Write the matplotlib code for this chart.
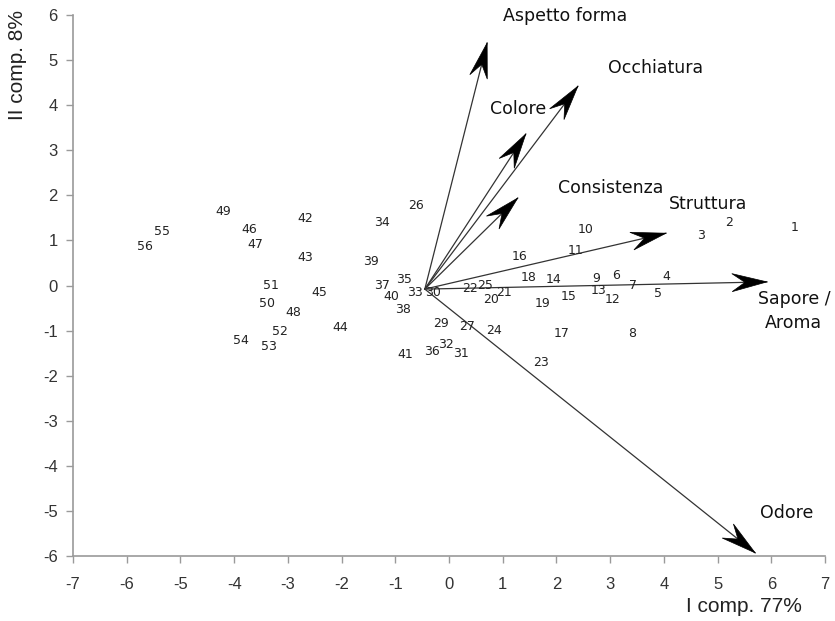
import numpy as np
import matplotlib
matplotlib.use("Agg")
import matplotlib.pyplot as plt
from matplotlib.patches import Polygon
from matplotlib.transforms import IdentityTransform

plt.rcParams["axes.unicode_minus"] = False

# Sample scores (label, x, y)
point_labels = [str(i) for i in range(1, 28)] + ["29", "30", "31", "32", "33", "34", "35", "36", "37", "38", "39", "40",
                "41", "42", "43", "44", "45", "46", "47", "48", "49", "50", "51", "52", "53", "54", "55", "56"]
point_x = [6.43, 5.22, 4.69, 4.05, 3.89, 3.11, 3.43, 3.40, 2.74, 2.55,
           2.35, 3.04, 2.78, 1.94, 2.22, 1.32, 2.10, 1.48, 1.74, 0.78,
           1.03, 0.40, 1.71, 0.83, 0.67, -0.62, 0.33,
           -0.15, -0.30, 0.22, -0.06, -0.64, -1.24, -0.83, -0.32, -1.24, -0.85, -1.45, -1.08,
           -0.81, -2.67, -2.67, -2.02, -2.42, -3.72, -3.60, -2.90, -4.21, -3.39, -3.31, -3.15,
           -3.35, -3.88, -5.34, -5.67]
point_y = [1.29, 1.39, 1.10, 0.20, -0.17, 0.22, -0.01, -1.06, 0.16, 1.25,
           0.77, -0.31, -0.12, 0.14, -0.25, 0.65, -1.06, 0.18, -0.39, -0.31,
           -0.16, -0.06, -1.70, -0.99, 0.00, 1.78, -0.91,
           -0.84, -0.15, -1.50, -1.30, -0.15, 1.39, 0.14, -1.47, 0.01, -0.54, 0.53, -0.24,
           -1.54, 1.49, 0.62, -0.93, -0.16, 1.25, 0.92, -0.60, 1.64, -0.41, -0.01, -1.02,
           -1.36, -1.23, 1.19, 0.86]

# Variable loadings (arrows)
origin = (-0.45, -0.08)
var_names = ["Aspetto forma", "Occhiatura", "Colore", "Consistenza", "Struttura", "Sapore /\nAroma", "Odore"]
var_x = [0.71, 2.40, 1.43, 1.28, 4.04, 5.92, 5.70]
var_y = [5.38, 4.42, 3.36, 1.94, 1.16, 0.08, -5.93]
label_x = [1.00, 2.96, 0.76, 2.03, 4.10, 6.42, 5.79]
label_y = [5.98, 4.82, 3.91, 2.16, 1.81, -0.56, -5.04]
label_ha = ["left", "left", "left", "left", "left", "center", "left"]

x_ticks = list(range(-7, 8))
y_ticks = list(range(-6, 7))

fig = plt.figure(figsize=(8.35, 6.21), dpi=100)
ax = fig.add_axes([73/835, 65/621, (825-73)/835, (556-15)/621])
ax.set_xlim(-7, 7)
ax.set_ylim(-6, 6)
for s in ["top", "right"]:
    ax.spines[s].set_visible(False)
for s in ["left", "bottom"]:
    ax.spines[s].set_color("#9a9a9a")
    ax.spines[s].set_linewidth(1.2)
ax.set_xticks(x_ticks)
ax.set_yticks(y_ticks)
ax.tick_params(direction="out", length=5, width=1, color="#9a9a9a", labelcolor="#333333",
               labelsize=12, pad=6)
for t in ax.get_xticklabels() + ax.get_yticklabels():
    t.set_family(["Liberation Sans", "DejaVu Sans"])
ax.tick_params(axis="x", pad=10)

# points
for lab, x, y in zip(point_labels, point_x, point_y):
    ax.text(x, y, lab, ha="center", va="center", fontsize=9, color="#222222",
            family=["DejaVu Sans"], zorder=3)

# arrows
fig.canvas.draw()
ox, oy = origin
for name, vx, vy, lx, ly, ha in zip(var_names, var_x, var_y, label_x, label_y, label_ha):
    ax.plot([ox, vx], [oy, vy], color="#333333", lw=0.9, zorder=2)
    p0 = ax.transData.transform((ox, oy))
    p1 = ax.transData.transform((vx, vy))
    d = p1 - p0
    d = d / np.hypot(*d)
    n = np.array([-d[1], d[0]])
    L, W, notch = 35, 9, 13
    pts = [p1, p1 - d*L + n*W, p1 - d*(L - notch), p1 - d*L - n*W]
    ax.add_patch(Polygon(pts, closed=True, transform=IdentityTransform(), facecolor="black",
                         edgecolor="black", lw=0.5, zorder=4))
    ax.text(lx, ly, name, ha=ha, va="center", fontsize=12.5, color="#111111",
            family=["DejaVu Sans"], linespacing=1.4)

fig.text(18/835, 1 - 65/621, "II comp. 8%", rotation=90, ha="center", va="center",
         fontsize=15, color="#222222", family=["Liberation Sans", "DejaVu Sans"])
fig.text(744/835, 1 - 606/621, "I comp. 77%", ha="center", va="center",
         fontsize=15, color="#222222", family=["Liberation Sans", "DejaVu Sans"])

fig.savefig("out.png", dpi=100)
